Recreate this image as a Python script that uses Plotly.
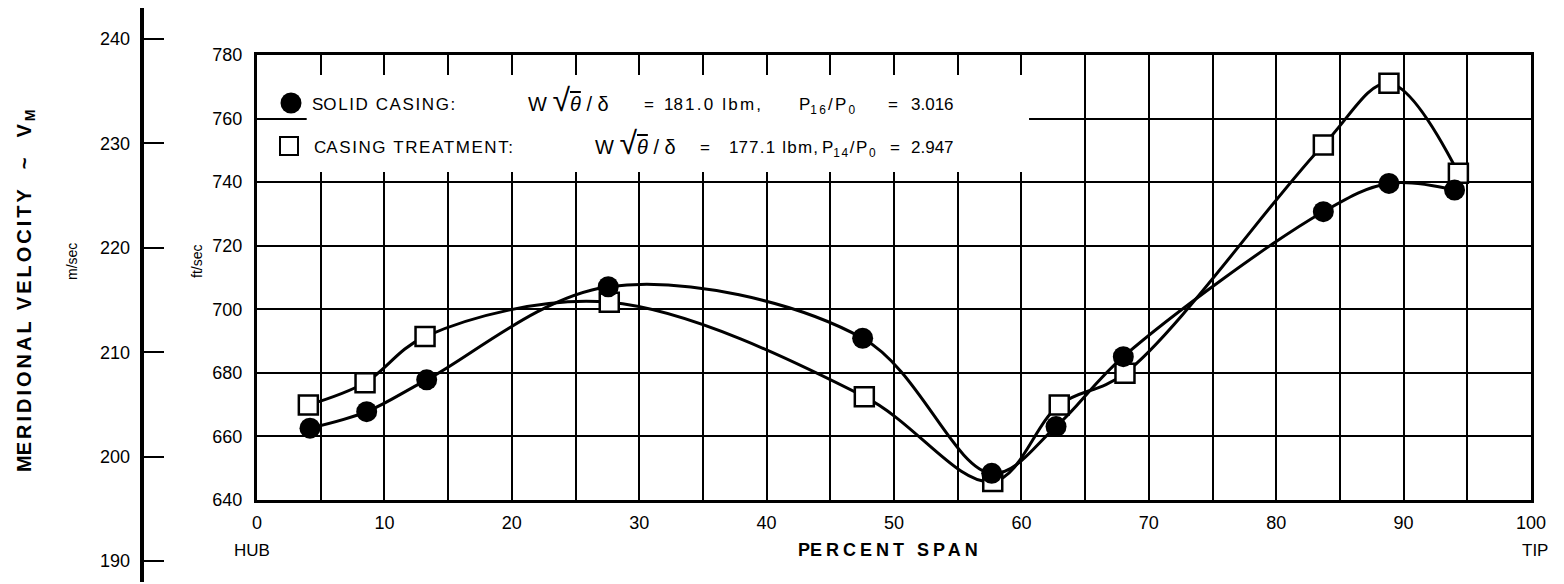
import plotly.graph_objects as go

# ---------------- data ----------------
span_solid = [4.16, 8.61, 13.32, 27.57, 47.54, 57.67, 62.72, 68.0, 83.7, 88.85, 94.0]
vm_solid = [662.6, 667.8, 677.8, 707.1, 690.9, 648.4, 663.1, 685.1, 730.7, 739.6, 737.5]

span_treat = [4.03, 8.48, 13.19, 27.65, 47.67, 57.75, 62.97, 68.13, 83.7, 88.85, 94.3]
vm_treat = [669.9, 676.9, 691.4, 702.2, 672.5, 645.8, 669.9, 679.9, 751.7, 771.1, 742.8]

x_ticks = [0, 10, 20, 30, 40, 50, 60, 70, 80, 90, 100]
x_minor = [5, 15, 25, 35, 45, 55, 65, 75, 85, 95]
ft_ticks = [640, 660, 680, 700, 720, 740, 760, 780]
ms_ticks = [190, 200, 210, 220, 230, 240]

# ---------------- layout helpers ----------------
W, H = 1564, 584
OX, OY = 8, 8          # page body margin offset
def px(x):
    return (x - OX) / W
def py(y):
    return 1 - (y - OY) / H

FONT = "Liberation Sans, Arial, sans-serif"

def sp(first, rest, size, ls):
    """first character plain, rest letter-spaced"""
    return f"{first}<span style='font-size:{size}px;letter-spacing:{ls}px'>{rest}</span>"

fig = go.Figure()

fig.add_trace(go.Scatter(
    x=span_treat, y=vm_treat, mode="lines+markers",
    line=dict(color="black", width=3, shape="spline", smoothing=1.0),
    marker=dict(symbol="square", size=19, color="white",
                line=dict(color="black", width=2.5)),
    showlegend=False, hoverinfo="skip", cliponaxis=False))

fig.add_trace(go.Scatter(
    x=span_solid, y=vm_solid, mode="lines+markers",
    line=dict(color="black", width=3, shape="spline", smoothing=1.0),
    marker=dict(symbol="circle", size=21, color="black",
                line=dict(color="black", width=0)),
    showlegend=False, hoverinfo="skip", cliponaxis=False))

# invisible trace carrying the m/sec scale
fig.add_trace(go.Scatter(
    x=[0.5], y=[ms_ticks[1]], xaxis="x2", yaxis="y2", mode="markers",
    marker=dict(opacity=0), showlegend=False, hoverinfo="skip"))

grid = dict(showgrid=True, gridcolor="black", gridwidth=2)

fig.update_layout(
    width=W, height=H, autosize=False,
    margin=dict(l=0, r=0, t=0, b=0, pad=0, autoexpand=False),
    paper_bgcolor="white", plot_bgcolor="white",
    font=dict(family=FONT, color="black", size=18),
    xaxis=dict(domain=[px(257), px(1531)], range=[0, 100],
               tickmode="array", tickvals=x_ticks, ticks="",
               tickfont=dict(size=18, family=FONT), ticklabelstandoff=4,
               minor=dict(tickvals=x_minor, showgrid=True, gridcolor="black", gridwidth=2),
               showline=True, linewidth=3, linecolor="black", mirror=True,
               zeroline=False, anchor="y", automargin=False, **grid),
    yaxis=dict(domain=[py(500), py(55)], range=[640, 780],
               tickmode="array", tickvals=ft_ticks, ticks="",
               tickfont=dict(size=18, family=FONT), ticklabelstandoff=8,
               showline=True, linewidth=3, linecolor="black", mirror=True,
               zeroline=False, anchor="x", automargin=False, **grid),
    xaxis2=dict(domain=[0, px(120)], range=[0, 1], visible=False, anchor="y2"),
    yaxis2=dict(domain=[py(582), py(8)], range=[187.99, 242.97],
                anchor="free", position=px(141.7), side="left",
                tickmode="array", tickvals=ms_ticks,
                ticks="inside", ticklen=20, tickwidth=2, tickcolor="black",
                tickfont=dict(size=18, family=FONT), ticklabelstandoff=6,
                showline=True, linewidth=4, linecolor="black",
                showgrid=False, zeroline=False, automargin=False),
)

shapes = []
# white legend panel covering the grid
shapes.append(dict(type="rect", xref="x", yref="y", x0=3.9, x1=60.6, y0=743.2, y1=773.7,
                   fillcolor="white", line=dict(width=0), layer="above"))
# legend symbols
shapes.append(dict(type="circle", xref="paper", yref="paper",
                   x0=px(280.5), x1=px(301.5), y0=py(113.5), y1=py(92.5),
                   fillcolor="black", line=dict(color="black", width=0), layer="above"))
shapes.append(dict(type="rect", xref="paper", yref="paper",
                   x0=px(280), x1=px(298), y0=py(155), y1=py(137),
                   fillcolor="white", line=dict(color="black", width=2), layer="above"))
fig.update_layout(shapes=shapes)

sq = ("<span style='font-size:32px'>√</span>"
      "<span style='font-size:20px;text-decoration:overline'><i>θ</i></span>")

ann = [
    dict(x=px(25), y=py(290),
         text="<b>" + sp("M", "ERIDIONAL VELOCITY  ~  V<sub>M</sub>", 20, 3) + "</b>",
         textangle=-90, font=dict(size=20)),
    dict(x=px(72), y=py(262), text="m/sec", textangle=-90, font=dict(size=14)),
    dict(x=px(197), y=py(262), text="ft/sec", textangle=-90, font=dict(size=14)),
    dict(x=px(252), y=py(550), text="HUB", font=dict(size=17)),
    dict(x=px(890), y=py(550), text="<b>" + sp("P", "ERCENT SPAN", 18, 4) + "</b>",
         font=dict(size=18)),
    dict(x=px(1535), y=py(550), text="TIP", font=dict(size=17)),
    # legend row 1
    dict(x=px(310), y=py(104), xanchor="left", text=sp("S", "OLID CASING:", 17, 1.6),
         font=dict(size=17)),
    dict(x=px(526), y=py(100), xanchor="left", text=f"W {sq} / δ", font=dict(size=20)),
    dict(x=px(649), y=py(104), text="=", font=dict(size=17)),
    dict(x=px(662), y=py(104), xanchor="left", text=sp("1", "81.0 lbm,", 17, 2.2),
         font=dict(size=17)),
    dict(x=px(797), y=py(106), xanchor="left",
         text=sp("P", "<sub>16</sub>/P<sub>0</sub>", 17, 2.2), font=dict(size=17)),
    dict(x=px(893), y=py(104), text="=", font=dict(size=17)),
    dict(x=px(956), y=py(104), xanchor="right", text="3.016", font=dict(size=17)),
    # legend row 2
    dict(x=px(312), y=py(147), xanchor="left", text=sp("C", "ASING TREATMENT:", 17, 1.6),
         font=dict(size=17)),
    dict(x=px(593), y=py(143), xanchor="left", text=f"W {sq} / δ", font=dict(size=20)),
    dict(x=px(705), y=py(147), text="=", font=dict(size=17)),
    dict(x=px(727), y=py(147), xanchor="left", text=sp("1", "77.1 lbm,", 17, 1.2),
         font=dict(size=17)),
    dict(x=px(820), y=py(149), xanchor="left",
         text=sp("P", "<sub>14</sub>/P<sub>0</sub>", 17, 1.6), font=dict(size=17)),
    dict(x=px(895), y=py(147), text="=", font=dict(size=17)),
    dict(x=px(956), y=py(147), xanchor="right", text="2.947", font=dict(size=17)),
]
for a in ann:
    a.setdefault("xanchor", "center")
    a.setdefault("yanchor", "middle")
    a["xref"] = "paper"
    a["yref"] = "paper"
    a["showarrow"] = False
fig.update_layout(annotations=ann)

fig.write_html("out.html")
